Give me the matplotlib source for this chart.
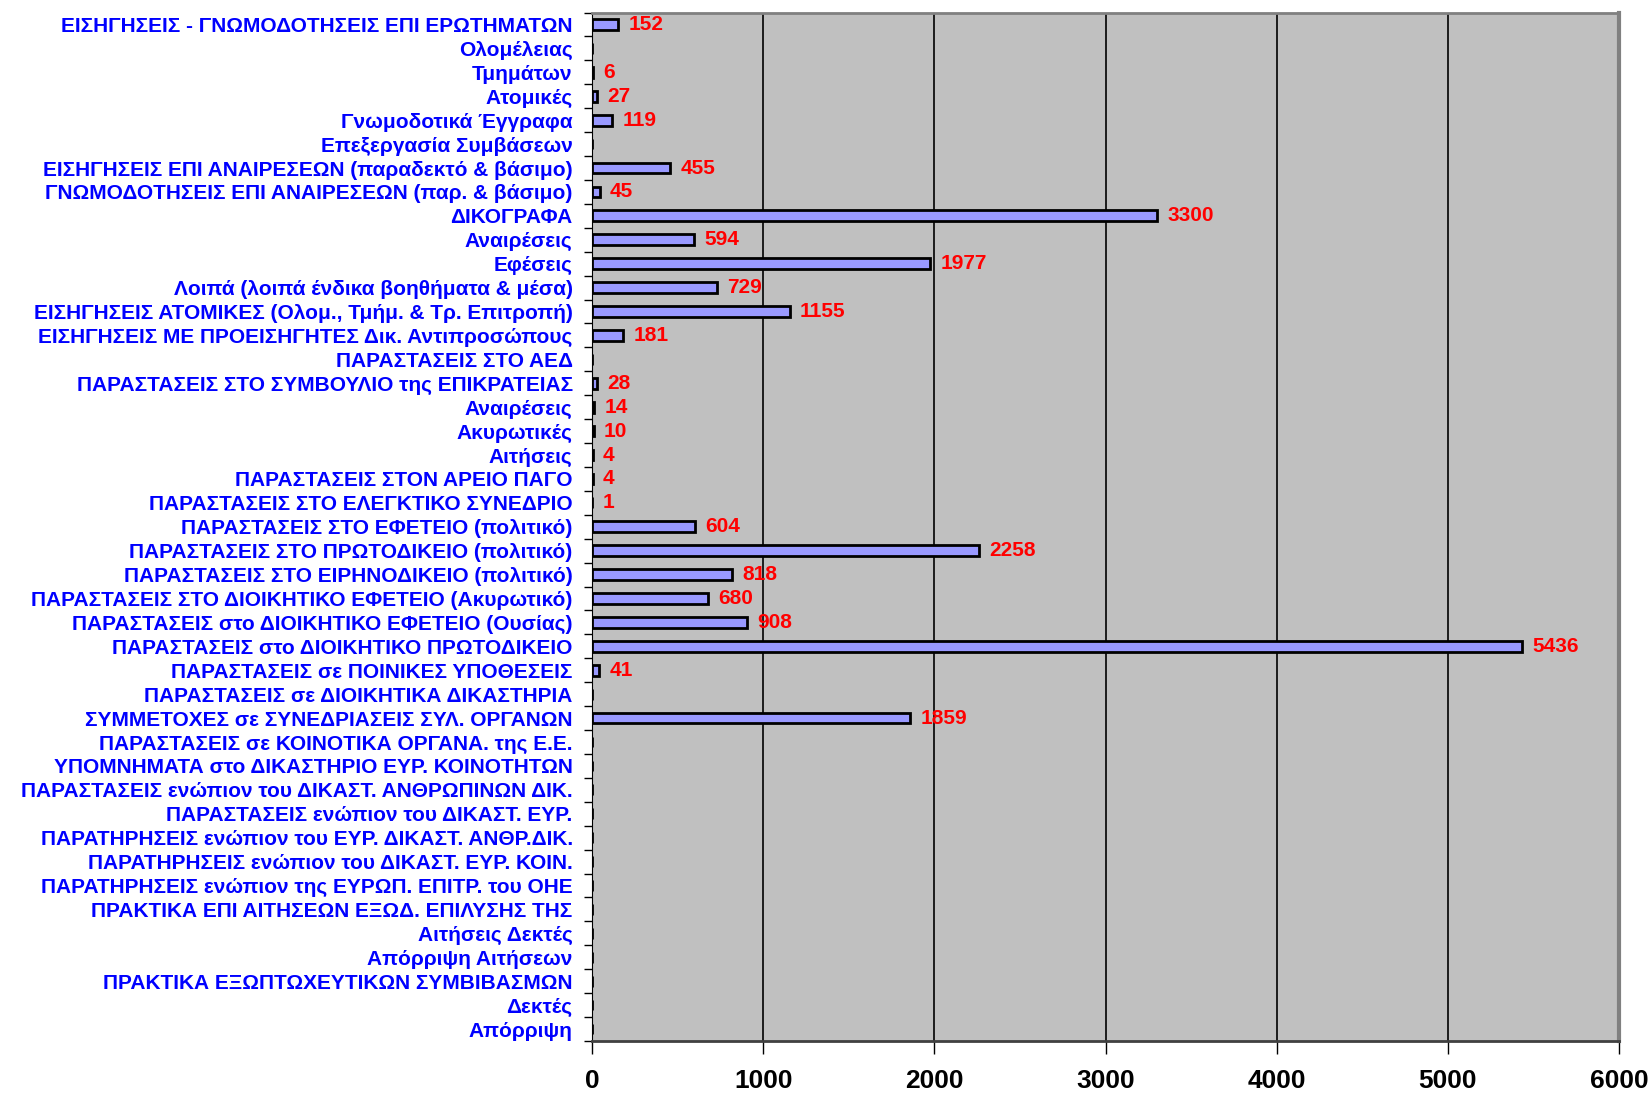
import numpy as np
import matplotlib.pyplot as plt
from matplotlib import font_manager

# categories top to bottom, value None = empty row
categories = [
    'ΕΙΣΗΓΗΣΕΙΣ - ΓΝΩΜΟΔΟΤΗΣΕΙΣ ΕΠΙ ΕΡΩΤΗΜΑΤΩΝ',
    'Ολομέλειας',
    'Τμημάτων',
    'Ατομικές',
    'Γνωμοδοτικά Έγγραφα',
    'Επεξεργασία Συμβάσεων',
    'ΕΙΣΗΓΗΣΕΙΣ ΕΠΙ ΑΝΑΙΡΕΣΕΩΝ (παραδεκτό & βάσιμο)',
    'ΓΝΩΜΟΔΟΤΗΣΕΙΣ ΕΠΙ ΑΝΑΙΡΕΣΕΩΝ (παρ. & βάσιμο)',
    'ΔΙΚΟΓΡΑΦΑ',
    'Αναιρέσεις',
    'Εφέσεις',
    'Λοιπά (λοιπά ένδικα βοηθήματα & μέσα)',
    'ΕΙΣΗΓΗΣΕΙΣ ΑΤΟΜΙΚΕΣ (Ολομ., Τμήμ. & Τρ. Επιτροπή)',
    'ΕΙΣΗΓΗΣΕΙΣ ΜΕ ΠΡΟΕΙΣΗΓΗΤΕΣ Δικ. Αντιπροσώπους',
    'ΠΑΡΑΣΤΑΣΕΙΣ ΣΤΟ ΑΕΔ',
    'ΠΑΡΑΣΤΑΣΕΙΣ ΣΤΟ ΣΥΜΒΟΥΛΙΟ της ΕΠΙΚΡΑΤΕΙΑΣ',
    'Αναιρέσεις',
    'Ακυρωτικές',
    'Αιτήσεις',
    'ΠΑΡΑΣΤΑΣΕΙΣ ΣΤΟΝ ΑΡΕΙΟ ΠΑΓΟ',
    'ΠΑΡΑΣΤΑΣΕΙΣ ΣΤΟ ΕΛΕΓΚΤΙΚΟ ΣΥΝΕΔΡΙΟ',
    'ΠΑΡΑΣΤΑΣΕΙΣ ΣΤΟ ΕΦΕΤΕΙΟ (πολιτικό)',
    'ΠΑΡΑΣΤΑΣΕΙΣ ΣΤΟ ΠΡΩΤΟΔΙΚΕΙΟ (πολιτικό)',
    'ΠΑΡΑΣΤΑΣΕΙΣ ΣΤΟ ΕΙΡΗΝΟΔΙΚΕΙΟ (πολιτικό)',
    'ΠΑΡΑΣΤΑΣΕΙΣ ΣΤΟ ΔΙΟΙΚΗΤΙΚΟ ΕΦΕΤΕΙΟ (Ακυρωτικό)',
    'ΠΑΡΑΣΤΑΣΕΙΣ στο ΔΙΟΙΚΗΤΙΚΟ ΕΦΕΤΕΙΟ (Ουσίας)',
    'ΠΑΡΑΣΤΑΣΕΙΣ στο ΔΙΟΙΚΗΤΙΚΟ ΠΡΩΤΟΔΙΚΕΙΟ',
    'ΠΑΡΑΣΤΑΣΕΙΣ σε ΠΟΙΝΙΚΕΣ ΥΠΟΘΕΣΕΙΣ',
    'ΠΑΡΑΣΤΑΣΕΙΣ σε ΔΙΟΙΚΗΤΙΚΑ ΔΙΚΑΣΤΗΡΙΑ',
    'ΣΥΜΜΕΤΟΧΕΣ σε ΣΥΝΕΔΡΙΑΣΕΙΣ ΣΥΛ. ΟΡΓΑΝΩΝ',
    'ΠΑΡΑΣΤΑΣΕΙΣ σε ΚΟΙΝΟΤΙΚΑ ΟΡΓΑΝΑ. της Ε.Ε.',
    'ΥΠΟΜΝΗΜΑΤΑ στο ΔΙΚΑΣΤΗΡΙΟ ΕΥΡ. ΚΟΙΝΟΤΗΤΩΝ',
    'ΠΑΡΑΣΤΑΣΕΙΣ ενώπιον του ΔΙΚΑΣΤ. ΑΝΘΡΩΠΙΝΩΝ ΔΙΚ.',
    'ΠΑΡΑΣΤΑΣΕΙΣ ενώπιον του ΔΙΚΑΣΤ. ΕΥΡ.',
    'ΠΑΡΑΤΗΡΗΣΕΙΣ ενώπιον του ΕΥΡ. ΔΙΚΑΣΤ. ΑΝΘΡ.ΔΙΚ.',
    'ΠΑΡΑΤΗΡΗΣΕΙΣ ενώπιον του ΔΙΚΑΣΤ. ΕΥΡ. ΚΟΙΝ.',
    'ΠΑΡΑΤΗΡΗΣΕΙΣ ενώπιον της ΕΥΡΩΠ. ΕΠΙΤΡ. του ΟΗΕ',
    'ΠΡΑΚΤΙΚΑ ΕΠΙ ΑΙΤΗΣΕΩΝ ΕΞΩΔ. ΕΠΙΛΥΣΗΣ ΤΗΣ',
    'Αιτήσεις Δεκτές',
    'Απόρριψη Αιτήσεων',
    'ΠΡΑΚΤΙΚΑ ΕΞΩΠΤΩΧΕΥΤΙΚΩΝ ΣΥΜΒΙΒΑΣΜΩΝ',
    'Δεκτές',
    'Απόρριψη',
]
values = [152, None, 6, 27, 119, None, 455, 45, 3300, 594, 1977, 729, 1155,
          181, None, 28, 14, 10, 4, 4, 1, 604, 2258, 818, 680, 908, 5436, 41,
          None, 1859, None, None, None, None, None, None, None, None, None,
          None, None, None, None]
x_ticks = [0, 1000, 2000, 3000, 4000, 5000, 6000]

names = {f.name for f in font_manager.fontManager.ttflist}
fam = 'Liberation Sans Narrow' if 'Liberation Sans Narrow' in names else 'Liberation Sans'
plt.rcParams['font.family'] = [fam, 'DejaVu Sans']

n = len(categories)
y = np.arange(n)
vals = np.array([np.nan if v is None else v for v in values], dtype=float)

fig = plt.figure(figsize=(16.52, 10.93), dpi=100)
ax = fig.add_axes([0.3584, 0.0476, 0.6216, 0.9409])
ax.set_facecolor('#C0C0C0')

ax.barh(y, np.nan_to_num(vals), height=0.45, color='#9999FF',
        edgecolor='black', linewidth=2, zorder=3)
for yi, v in zip(y, values):
    if v is not None:
        ax.text(v + 60, yi, str(v), color='#FF0000', fontsize=15,
                fontweight='bold', va='center', ha='left', zorder=4)

ax.set_xlim(0, 6000)
ax.set_ylim(n - 0.5, -0.5)
ax.set_xticks(x_ticks)
ax.set_xticklabels([str(t) for t in x_ticks], fontsize=19, fontweight='bold')
ax.tick_params(axis='x', length=9, width=1, pad=11, color='black')
ax.xaxis.grid(True, color='black', linewidth=1.2, zorder=1)
ax.set_axisbelow(True)

ax.set_yticks(y)
ax.set_yticklabels(categories, fontsize=15, fontweight='bold', color='#0000FF')
ax.tick_params(axis='y', length=0, pad=14)
ax.set_yticks(np.arange(-0.5, n, 1), minor=True)
ax.tick_params(axis='y', which='minor', length=6, width=1, color='black')

ax.spines['left'].set_color('black')
ax.spines['bottom'].set_color('#404040')
ax.spines['bottom'].set_linewidth(2)
ax.spines['top'].set_color('#808080')
ax.spines['top'].set_linewidth(2)
ax.spines['right'].set_color('#808080')
ax.spines['right'].set_linewidth(3)

fig.savefig('out.png', dpi=100)
